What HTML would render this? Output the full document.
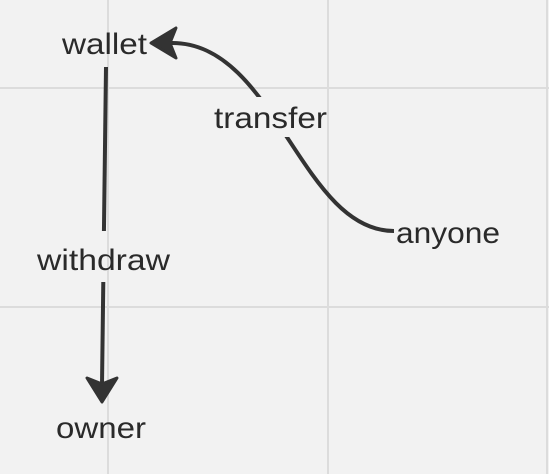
<!DOCTYPE html>
<html><head><style>
html,body{margin:0;padding:0;background:#f2f2f2;}
svg{display:block;}
text{font-family:"Liberation Sans",sans-serif;font-size:30px;fill:#2a2a2a;}
</style></head><body>
<svg width="549" height="474" viewBox="0 0 549 474">
<defs>
<clipPath id="m"><rect x="210" y="97" width="122" height="40"/><rect x="33" y="231" width="142" height="51"/></clipPath>
<g id="grid" stroke="#dcdcdc" stroke-width="2">
<line x1="108" y1="0" x2="108" y2="474"/>
<line x1="328" y1="0" x2="328" y2="474"/>
<line x1="547" y1="0" x2="547" y2="474"/>
<line x1="0" y1="88" x2="549" y2="88"/>
<line x1="0" y1="307" x2="549" y2="307"/>
</g>
</defs>
<rect width="549" height="474" fill="#f2f2f2"/>
<use href="#grid"/>
<g stroke="#333" stroke-width="4" fill="none" stroke-linecap="butt">
<path d="M394,231 C300,231 275,40 170,43"/>
<line x1="106" y1="67" x2="102" y2="385"/>
</g>
<path d="M151,43 L176,28 L170,43 L176,58 Z" fill="#333" stroke="#333" stroke-width="3" stroke-linejoin="round"/>
<path d="M102,402 L87,378 L102,384 L117,378 Z" fill="#333" stroke="#333" stroke-width="3" stroke-linejoin="round"/>
<rect x="210" y="97" width="122" height="40" fill="#f2f2f2"/>
<rect x="33" y="231" width="142" height="51" fill="#f2f2f2"/>
<g clip-path="url(#m)"><use href="#grid"/></g>
<text x="62" y="54" textLength="85" lengthAdjust="spacingAndGlyphs">wallet</text>
<text x="214" y="128" textLength="113" lengthAdjust="spacingAndGlyphs">transfer</text>
<text x="37" y="270" textLength="133" lengthAdjust="spacingAndGlyphs">withdraw</text>
<text x="396" y="243" textLength="104" lengthAdjust="spacingAndGlyphs">anyone</text>
<text x="56" y="438" textLength="90" lengthAdjust="spacingAndGlyphs">owner</text>
</svg>
</body></html>
